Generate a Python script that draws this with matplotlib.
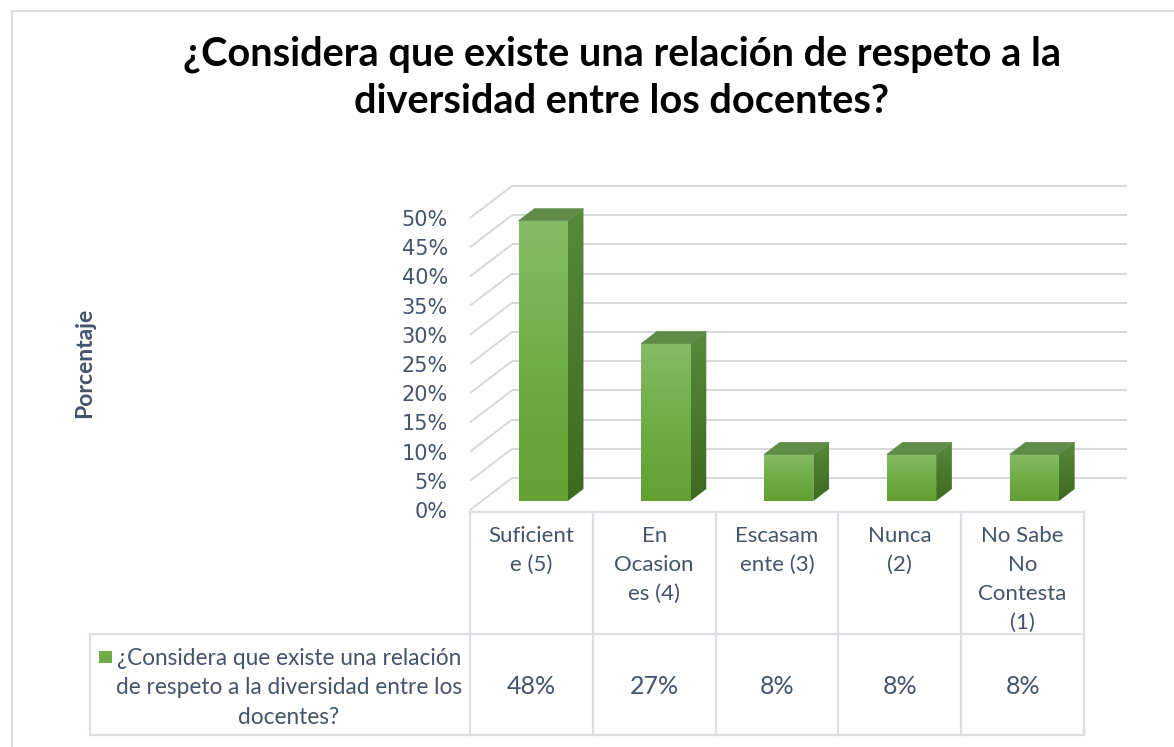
import matplotlib
matplotlib.use("Agg")
import matplotlib.pyplot as plt
import numpy as np
from matplotlib.patches import Polygon, Rectangle
from matplotlib.colors import LinearSegmentedColormap

# ---------------- data ----------------
categories = ["Suficient\ne (5)", "En\nOcasion\nes (4)", "Escasam\nente (3)",
              "Nunca\n(2)", "No Sabe\nNo\nContesta\n(1)"]
values = [48, 27, 8, 8, 8]
value_labels = ["48%", "27%", "8%", "8%", "8%"]
yticks = [0, 5, 10, 15, 20, 25, 30, 35, 40, 45, 50]
ytick_labels = [f"{t}%" for t in yticks]
series_name = "¿Considera que existe una relación\nde respeto a la diversidad entre los\ndocentes?"
title = "¿Considera que existe una relación de respeto a la\ndiversidad entre los docentes?"
ylabel = "Porcentaje"

# ---------------- style ----------------
TXT = "#44546A"
GRID = "#D6D8DC"
TABLE = "#DCDFE4"
GREEN = "#70AD47"
front_cmap = LinearSegmentedColormap.from_list("front", ["#62A034", "#6FAD45", "#86BC68"])
side_cmap = LinearSegmentedColormap.from_list("side", ["#3D6A21", "#4A7A2D", "#578B3A"])
TOP = "#5F8D48"

FW, FH = 1174, 747
fig = plt.figure(figsize=(FW / 100, FH / 100), dpi=100)
fig.patch.set_facecolor("white")

# geometry (pixels)
X0, Y0 = 470, 510          # front-left corner of the floor
XR, YT = 1127, 186         # right end of back wall, top of back wall
CW = 122.8                 # pixels per category
PP = 5.84                  # pixels per percent
DX_PX, DY_PX = 42, 32      # depth offset front -> back

ax = fig.add_axes([X0 / FW, 1 - Y0 / FH, (XR - X0) / FW, (Y0 - YT) / FH])
xmax = (XR - X0) / CW
ymax = (Y0 - YT) / PP
dx = DX_PX / CW
dy = DY_PX / PP


def yd(p):
    return (Y0 - p) / PP


def xd(p):
    return (p - X0) / CW


for s in ax.spines.values():
    s.set_visible(False)
ax.set_facecolor("none")
ax.set_xticks([])
ax.set_yticks(yticks)
ax.set_yticklabels(ytick_labels, fontsize=15, color=TXT, family="DejaVu Sans")
ax.tick_params(axis="y", length=0, pad=16)

# walls / gridlines
for t in yticks:
    ax.plot([0, dx], [t, t + dy], color=GRID, lw=1.4, zorder=1, clip_on=False,
            solid_capstyle="butt")
    ax.plot([dx, xmax], [t + dy, t + dy], color=GRID, lw=1.4, zorder=1, clip_on=False,
            solid_capstyle="butt")

# 3D bars
f1, f2 = 0.28, 0.655
bw = 0.40
grad = np.linspace(0, 1, 256).reshape(-1, 1)
for i, v in enumerate(values):
    x0 = i + 0.5 - bw / 2
    x1 = i + 0.5 + bw / 2
    ox1, oy1 = f1 * dx, f1 * dy
    ox2, oy2 = f2 * dx, f2 * dy
    front = [(x0 + ox1, oy1), (x1 + ox1, oy1), (x1 + ox1, v + oy1), (x0 + ox1, v + oy1)]
    side = [(x1 + ox1, oy1), (x1 + ox2, oy2), (x1 + ox2, v + oy2), (x1 + ox1, v + oy1)]
    top = [(x0 + ox1, v + oy1), (x1 + ox1, v + oy1), (x1 + ox2, v + oy2), (x0 + ox2, v + oy2)]

    for pts, cmap in ((front, front_cmap), (side, side_cmap)):
        poly = Polygon(pts, closed=True, facecolor="none", edgecolor="none", zorder=3)
        ax.add_patch(poly)
        xs = [p[0] for p in pts]
        ys = [p[1] for p in pts]
        im = ax.imshow(grad, extent=[min(xs), max(xs), min(ys), max(ys)], origin="lower",
                       cmap=cmap, aspect="auto", zorder=3, interpolation="bilinear")
        im.set_clip_path(poly)
    ax.add_patch(Polygon(top, closed=True, facecolor=TOP, edgecolor=TOP, lw=0.5, zorder=4))

ax.set_xlim(0, xmax)
ax.set_ylim(0, ymax)
ax.set_aspect("auto")

# ---------------- data table ----------------
ncat = len(categories)
lw_t = 1.6
# header row
ax.plot([0, ncat], [yd(512), yd(512)], color=TABLE, lw=lw_t, clip_on=False, zorder=2)
for k in range(ncat + 1):
    ax.plot([k, k], [yd(512), yd(735)], color=TABLE, lw=lw_t, clip_on=False, zorder=2)
# value row
for yy in (634, 735):
    ax.plot([xd(90), ncat], [yd(yy), yd(yy)], color=TABLE, lw=lw_t, clip_on=False, zorder=2)
ax.plot([xd(90), xd(90)], [yd(634), yd(735)], color=TABLE, lw=lw_t, clip_on=False, zorder=2)

for i, cat in enumerate(categories):
    ax.text(i + 0.5, yd(526), cat, ha="center", va="top", fontsize=16, family="Lato",
            color=TXT, linespacing=1.55, clip_on=False)
    ax.text(i + 0.5, yd(686), value_labels[i], ha="center", va="center", fontsize=18,
            family="Lato", color=TXT, clip_on=False)

# legend cell
ax.text(xd(289), yd(688), series_name, ha="center", va="center", fontsize=16.3,
        family="Lato", color=TXT, linespacing=1.52, clip_on=False)
fig.patches.append(Rectangle((99 / FW, 1 - 663 / FH), 13 / FW, 12 / FH,
                             transform=fig.transFigure, facecolor=GREEN, edgecolor="none"))

# axis title
fig.text(85 / FW, 1 - 363 / FH, ylabel, rotation=90, ha="center", va="center",
         fontsize=16.5, fontweight="bold", family="Lato", color=TXT)

# chart title
fig.text(622 / FW, 1 - 78 / FH, title, ha="center", va="center", fontsize=28.6,
         fontweight="bold", family="Lato", color="black", linespacing=1.33)

# chart border
fig.patches.append(Rectangle((12 / FW, -0.02), 1.1, 1.02 - 11 / FH + 0.0,
                             transform=fig.transFigure, fill=False, edgecolor="#D9D9D9",
                             lw=1.2))

fig.savefig("out.png", dpi=100, facecolor="white")
